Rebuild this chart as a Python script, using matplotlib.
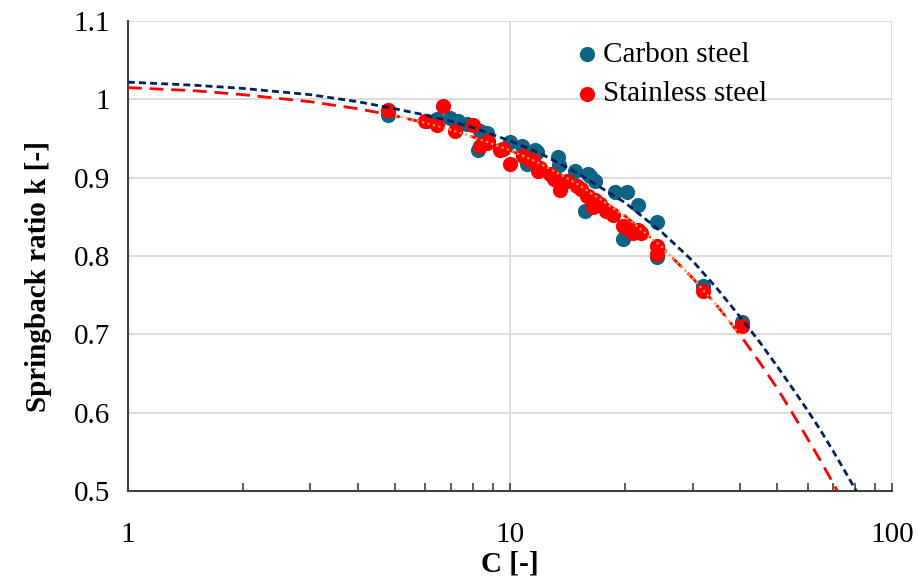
import numpy as np
import matplotlib
matplotlib.use('Agg')
import matplotlib.pyplot as plt

carbon_c = [4.79, 6.06, 6.44, 6.96, 7.31, 7.72, 8.35, 8.71, 8.25, 10.0, 10.75,
            11.63, 11.08, 11.77, 13.36, 13.4, 14.80, 16.0, 16.19, 16.69, 15.7,
            18.83, 20.24, 21.63, 24.26, 19.76, 24.26, 32.0, 40.5]
carbon_k = [0.980, 0.972, 0.975, 0.976, 0.972, 0.968, 0.960, 0.957, 0.935, 0.946, 0.940,
            0.935, 0.918, 0.933, 0.927, 0.916, 0.909, 0.905, 0.902, 0.896, 0.858,
            0.882, 0.882, 0.865, 0.844, 0.822, 0.799, 0.762, 0.716]

stainless_c = [4.79, 6.68, 5.99, 6.44, 7.18, 8.00, 8.35, 8.76, 8.7, 9.41, 9.59, 10.0,
               10.81, 11.28, 11.49, 11.84, 11.98, 12.73, 13.0, 13.52, 14.10, 14.98,
               15.3, 15.91, 16.0, 16.49, 16.69, 17.20, 17.8, 18.61, 19.76, 20.5, 21.0,
               21.63, 22.0, 24.26, 24.26, 32.0, 40.5]
stainless_k = [0.986, 0.992, 0.972, 0.967, 0.960, 0.967, 0.940, 0.947, 0.944, 0.935, 0.937, 0.918,
               0.928, 0.922, 0.922, 0.909, 0.912, 0.905, 0.898, 0.884, 0.896, 0.889,
               0.886, 0.877, 0.877, 0.863, 0.871, 0.867, 0.857, 0.852, 0.839, 0.835, 0.830,
               0.833, 0.830, 0.813, 0.803, 0.755, 0.711]

# fitted curves
fit_c_carbon = [1, 1.5, 2, 3, 4, 5, 6, 7, 8, 10, 12, 15, 20, 25, 30, 35, 40, 45,
                50, 55, 60, 65, 70, 75, 80.5]
fit_k_carbon = [1.022, 1.018, 1.014, 1.006, 0.997, 0.988, 0.980, 0.972, 0.964, 0.947,
                0.931, 0.906, 0.868, 0.830, 0.794, 0.757, 0.722, 0.690, 0.659, 0.630,
                0.603, 0.577, 0.551, 0.526, 0.500]

fit_c_stainless = [1, 1.5, 2, 3, 4, 5, 6, 7, 8, 10, 12, 15, 20, 25, 30, 35, 40, 45,
                   50, 55, 60, 65, 70, 71.8]
fit_k_stainless = [1.015, 1.011, 1.006, 0.997, 0.988, 0.979, 0.970, 0.961, 0.952, 0.935,
                   0.918, 0.892, 0.851, 0.811, 0.772, 0.735, 0.699, 0.664, 0.631, 0.598,
                   0.567, 0.538, 0.510, 0.500]

plt.rcParams['font.family'] = ['Liberation Serif', 'DejaVu Serif']

fig = plt.figure(figsize=(9.2, 5.84), dpi=100)
ax = fig.add_axes([0.139, 0.159, 0.831, 0.805])

teal = '#0F6484'
red = '#FF0000'
navy = '#002060'

ax.scatter(carbon_c, carbon_k, s=120, color=teal, linewidths=0, zorder=3, label='Carbon steel')
ax.scatter(stainless_c, stainless_k, s=120, color=red, linewidths=0, zorder=4, label='Stainless steel')

ax.plot(fit_c_stainless, fit_k_stainless, color=red, lw=2, dashes=(5, 2.8), zorder=5)
ax.plot(fit_c_carbon, fit_k_carbon, color=navy, lw=2, dashes=(2.5, 1.5), zorder=6)

fc = np.array(fit_c_stainless)
fk = np.array(fit_k_stainless)
m = (fc >= 5) & (fc <= 40)
ax.plot(fc[m], fk[m], color='#FFA040', lw=1.6, dashes=(1, 1.5), zorder=7)

ax.set_xscale('log')
ax.set_xlim(1, 100)
ax.set_ylim(0.5, 1.1)
ax.set_yticks([0.5, 0.6, 0.7, 0.8, 0.9, 1.0, 1.1])
ax.set_yticklabels(['0.5', '0.6', '0.7', '0.8', '0.9', '1', '1.1'])
ax.set_xticks([1, 10, 100])
ax.set_xticklabels(['1', '10', '100'])

ax.grid(True, which='major', color='#D9D9D9', lw=1.3)
ax.set_axisbelow(True)
for s in ['top', 'right']:
    ax.spines[s].set_visible(False)
for s in ['left', 'bottom']:
    ax.spines[s].set_color('#404040')
    ax.spines[s].set_linewidth(1.5)

ax.tick_params(axis='y', length=0, pad=13, labelsize=21)
ax.tick_params(axis='x', which='both', direction='in', length=6, width=1.2,
               color='#404040', pad=22, labelsize=21)

ax.set_xlabel('C [-]', fontsize=21, fontweight='bold', labelpad=2)
ax.set_ylabel('Springback ratio k [-]', fontsize=21, fontweight='bold')
ax.yaxis.set_label_coords(-0.0995, 0.457)

ax.legend(loc='upper left', bbox_to_anchor=(0.557, 1.0), frameon=False, fontsize=21,
          handlelength=0.9, handletextpad=0.1, labelspacing=0.45, borderaxespad=0.3)

fig.savefig('out.png', dpi=100)
